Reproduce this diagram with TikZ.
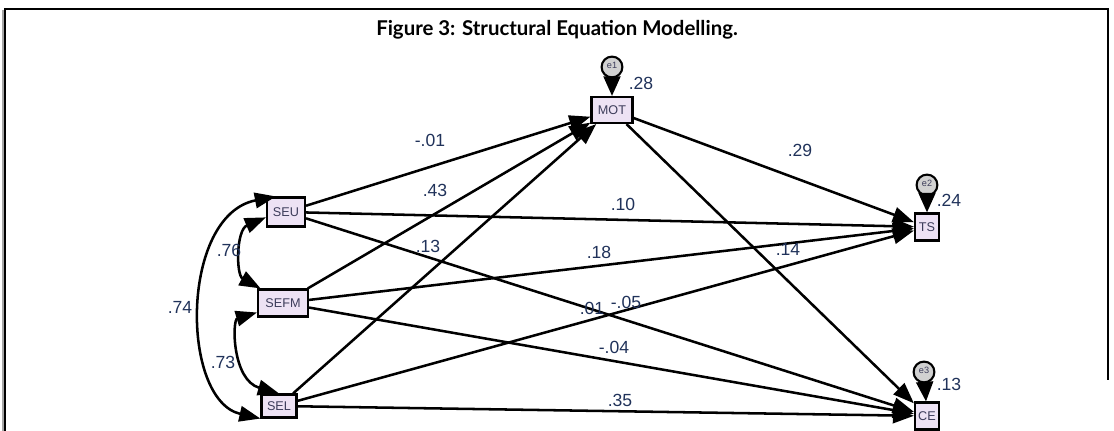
\documentclass[tikz,border=0pt]{standalone}
\usepackage{fontspec}
\setmainfont{Liberation Sans}
\newfontfamily\titlefont{Lato}
\usetikzlibrary{arrows.meta, positioning}

\definecolor{boxfill}{RGB}{237,226,244}
\definecolor{boxtext}{RGB}{60,60,90}
\definecolor{coeftext}{RGB}{32,50,90}

\begin{document}
\begin{tikzpicture}[x=0.025cm, y=0.025cm, >={Triangle[length=15pt, width=11pt]},
  var/.style={draw, line width=1.5pt, fill=boxfill, text=boxtext, inner sep=0pt,
    font=\fontsize{9}{10}\selectfont},
  err/.style={circle, draw, line width=1.5pt, fill=black!18, inner sep=0pt,
    minimum size=0.52cm, text=boxtext, font=\fontsize{6.5}{6.5}\selectfont},
  regr/.style={->, line width=1.8pt},
  cov/.style={<->, line width=1.8pt},
  errarrow/.style={-{Triangle[length=14pt, width=12pt]}, line width=1.8pt},
  coef/.style={text=coeftext, inner sep=0pt, font=\fontsize{12.5}{13}\selectfont}]

\useasboundingbox (0,0) rectangle (1114,-431);

% cornice
\draw[black!35, line width=1pt] (3,-10) -- (3,-431);
\draw[line width=1.4pt] (5,-431) -- (5,-9) -- (1108,-9) -- (1108,-380);

% titolo
\node[font=\titlefont\bfseries\fontsize{14.5}{16}\selectfont] (title) at (557,-30)
  {Figure 3: Structural Equation Modelling.};

% variabili osservate
\node[var, minimum width=0.95cm, minimum height=0.725cm] (SEU) at (286,-212) {SEU};
\node[var, minimum width=1.25cm, minimum height=0.675cm] (SEFM) at (283,-303) {SEFM};
\node[var, minimum width=0.875cm, minimum height=0.575cm] (SEL) at (279,-406) {SEL};
\node[var, minimum width=1.025cm, minimum height=0.65cm] (MOT) at (612,-110) {MOT};
\node[var, minimum width=0.6cm, minimum height=0.675cm] (TS) at (927,-227) {TS};
\node[var, minimum width=0.6cm, minimum height=0.675cm] (CE) at (927,-416) {CE};

% errori
\node[err] (e1) at (612,-67) {\raisebox{2pt}{e1}};
\node[err] (e2) at (927,-185) {\raisebox{2pt}{e2}};
\node[err] (e3) at (924,-372) {\raisebox{2pt}{e3}};
\draw[errarrow] (e1) -- (MOT);
\draw[errarrow] (e2) -- (TS);
\draw[errarrow] (e3) -- (CE);

% R quadro
\node[coef] (r1) at (641,-83) {.28};
\node[coef] (r2) at (949,-200) {.24};
\node[coef] (r3) at (949,-384) {.13};

% percorsi verso MOT
\draw[regr] (SEU) -- (MOT);
\draw[regr] (SEFM) -- (MOT);
\draw[regr] (SEL) -- (MOT);

% percorsi verso TS
\draw[regr] (SEU) -- (TS);
\draw[regr] (SEFM) -- (TS);
\draw[regr] (SEL) -- (TS);
\draw[regr] (MOT) -- (TS);

% percorsi verso CE
\draw[regr] (SEU) -- (CE);
\draw[regr] (SEFM) -- (CE);
\draw[regr] (SEL) -- (CE);
\draw[regr] (MOT) -- (CE);

% covarianze
\draw[cov] (SEU.195) .. controls (236,-230) and (236,-275) .. (SEFM.147);
\draw[cov] (SEFM.200) .. controls (232,-320) and (232,-380) .. (SEL.north);
\draw[cov] (SEU.123) .. controls (180,-215) and (180,-400) .. (SEL.south west);

% coefficienti
\node[coef] (c1) at (430,-140) {-.01};
\node[coef] (c2) at (435,-190) {.43};
\node[coef] (c3) at (428,-246) {.13};
\node[coef] (c4) at (623,-204) {.10};
\node[coef] (c5) at (599,-252) {.18};
\node[coef] (c6) at (592,-308) {.01};
\node[coef] (c7) at (626,-302) {-.05};
\node[coef] (c8) at (614,-347) {-.04};
\node[coef] (c9) at (620,-400) {.35};
\node[coef] (c10) at (800,-150) {.29};
\node[coef] (c11) at (788,-249) {.14};
\node[coef] (c12) at (229,-250) {.76};
\node[coef] (c13) at (180,-307) {.74};
\node[coef] (c14) at (223,-362) {.73};

\end{tikzpicture}
\end{document}
